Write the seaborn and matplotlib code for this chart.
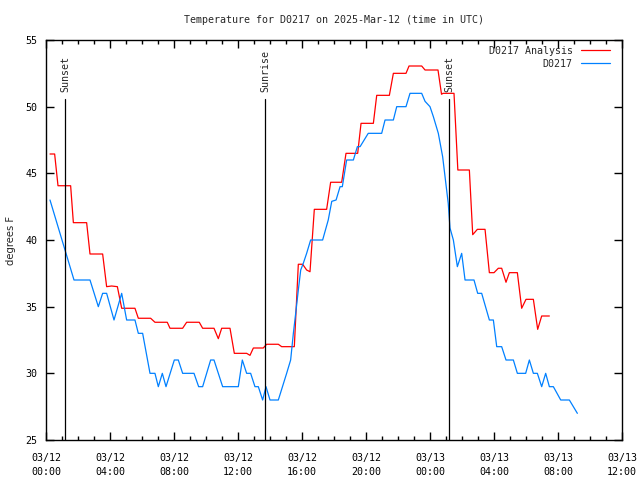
"""
Temperature for D0217: analysis vs observations, gnuplot-style look.
"""
import pandas as pd
import matplotlib
matplotlib.use("Agg")
import matplotlib.pyplot as plt
import matplotlib.dates as mdates
import seaborn as sns

sns.set_theme(style="ticks")
plt.rcParams["font.family"] = ["DejaVu Sans Mono", "DejaVu Sans"]

T0 = pd.Timestamp("2025-03-12 00:00")

# analysis (red), hours since 03/12 00:00 UTC
ana_hours = [0.25, 0.54, 0.75, 1.54, 1.71, 2.54, 2.75, 3.54, 3.79, 4.1, 4.46, 4.73, 5.56,
             5.77, 6.54, 6.81, 7.58, 7.75, 8.54, 8.79, 9.58, 9.79, 10.5, 10.77, 10.98,
             11.5, 11.77, 12.54, 12.75, 12.96, 13.58, 13.79, 14.52, 14.73, 15.52, 15.77,
             16.04, 16.29, 16.5, 16.77, 17.54, 17.79, 18.48, 18.75, 19.48, 19.69, 20.46,
             20.67, 21.46, 21.71, 22.5, 22.69, 23.48, 23.69, 24.5, 24.72, 24.81, 25.5,
             25.74, 26.46, 26.67, 26.96, 27.44, 27.71, 28.0, 28.27, 28.48, 28.75, 28.96,
             29.46, 29.73, 30.0, 30.46, 30.73, 30.98, 31.46]
ana_temp = [46.45, 46.45, 44.07, 44.07, 41.3, 41.3, 38.95, 38.95, 36.5, 36.55, 36.5, 34.88,
            34.88, 34.13, 34.13, 33.83, 33.83, 33.38, 33.38, 33.83, 33.83, 33.38, 33.38,
            32.6, 33.38, 33.38, 31.5, 31.5, 31.35, 31.9, 31.9, 32.18, 32.18, 32.0, 32.0,
            38.18, 38.18, 37.75, 37.62, 42.3, 42.3, 44.33, 44.33, 46.5, 46.5, 48.75, 48.75,
            50.85, 50.85, 52.5, 52.5, 53.05, 53.05, 52.75, 52.75, 50.93, 51.0, 51.0,
            45.25, 45.25, 40.4, 40.8, 40.8, 37.55, 37.55, 37.88, 37.88, 36.83, 37.55,
            37.55, 34.88, 35.55, 35.55, 33.3, 34.3, 34.3]

# observations (blue)
obs_hours = [0.25, 1.75, 2.75, 3.27, 3.54, 3.79, 4.25, 4.73, 5.04, 5.56, 5.77, 6.04, 6.5,
             6.81, 7.02, 7.27, 7.5, 8.02, 8.27, 8.54, 9.25, 9.54, 9.79, 10.29, 10.5, 11.04,
             12.02, 12.27, 12.54, 12.79, 13.06, 13.27, 13.54, 13.75, 14.0, 14.52, 15.04,
             15.29, 15.46, 15.63, 15.77, 15.92, 16.08, 16.29, 16.54, 17.29, 17.64, 17.86,
             18.13, 18.38, 18.52, 18.79, 19.21, 19.46, 19.63, 20.14, 20.98, 21.19, 21.71,
             21.92, 22.5, 22.75, 23.48, 23.69, 24.0, 24.21, 24.52, 24.79, 24.94, 25.14,
             25.25, 25.46, 25.71, 25.98, 26.19, 26.75, 26.98, 27.23, 27.71, 27.96, 28.17,
             28.48, 28.75, 29.21, 29.46, 29.98, 30.21, 30.46, 30.71, 30.98, 31.23, 31.46,
             31.71, 32.17, 32.71, 33.21]
obs_temp = [43, 37, 37, 35, 36, 36, 34, 36, 34, 34, 33, 33, 30,
            30, 29, 30, 29, 31, 31, 30, 30, 29, 29, 31, 31, 29,
            29, 31, 30, 30, 29, 29, 28, 29, 28, 28, 30,
            31, 33, 34.75, 36.25, 37.75, 38.25, 39, 40, 40, 41.5, 42.9,
            43, 44, 44, 46, 46, 47, 47, 48, 48, 49, 49,
            50, 50, 51, 51, 50.4, 50, 49.25, 48, 46.25, 44.75, 42.75,
            40.9, 40, 38, 39, 37, 37, 36, 36, 34, 34, 32,
            32, 31, 31, 30, 30, 31, 30, 30, 29, 30, 29,
            29, 28, 28, 27]

sun_labels = ["Sunset", "Sunrise", "Sunset"]
sun_hours = [1.19, 13.69, 25.19]

ana = pd.DataFrame({"time": T0 + pd.to_timedelta(ana_hours, unit="h"), "temp": ana_temp})
obs = pd.DataFrame({"time": T0 + pd.to_timedelta(obs_hours, unit="h"), "temp": obs_temp})

fig = plt.figure(figsize=(6.4, 4.8), dpi=100)
ax = fig.add_axes([46 / 640, 40 / 480, 576 / 640, 400 / 480])

sns.lineplot(data=ana, x="time", y="temp", ax=ax, color="#ff0000", lw=0.9,
             sort=False, estimator=None, label="D0217 Analysis")
sns.lineplot(data=obs, x="time", y="temp", ax=ax, color="#0080ff", lw=0.9,
             sort=False, estimator=None, label="D0217")

for name, h in zip(sun_labels, sun_hours):
    t = T0 + pd.Timedelta(hours=h)
    ax.plot([t, t], [25, 50.55], color="black", lw=0.9)
    ax.text(t, 51.1, name, rotation=90, ha="center", va="bottom", fontsize=7.2)

ax.set_xlim(T0, T0 + pd.Timedelta(hours=36))
ax.set_ylim(25, 55)
ax.set_yticks(range(25, 56, 5))
ax.xaxis.set_major_locator(mdates.HourLocator(byhour=[0, 4, 8, 12, 16, 20]))
ax.xaxis.set_minor_locator(mdates.HourLocator())
ax.xaxis.set_major_formatter(mdates.DateFormatter("%m/%d\n%H:%M"))

ax.tick_params(which="both", direction="in", top=True, right=True, labelsize=7.2,
               width=1, color="black", labelcolor="black")
ax.tick_params(which="major", length=6)
ax.tick_params(which="minor", length=3)
ax.tick_params(axis="x", pad=9)
ax.tick_params(axis="y", pad=6)
for lab in ax.get_xticklabels():
    lab.set_linespacing(1.55)
for s in ax.spines.values():
    s.set_color("black")
    s.set_linewidth(1)
ax.grid(False)

ax.set_xlabel("")
ax.set_ylabel("degrees F", family="DejaVu Sans", fontsize=7.2)
ax.yaxis.set_label_coords(-30 / 576, 0.5)
ax.set_title("Temperature for D0217 on 2025-Mar-12 (time in UTC)", fontsize=7.2, pad=12)

ax.legend(loc="upper right", bbox_to_anchor=(0.991, 1.003), frameon=False, markerfirst=False,
          fontsize=7.2, handlelength=2.9, handletextpad=0.8, labelspacing=0.3,
          borderaxespad=0.3)

plt.savefig("out.png", dpi=100)
